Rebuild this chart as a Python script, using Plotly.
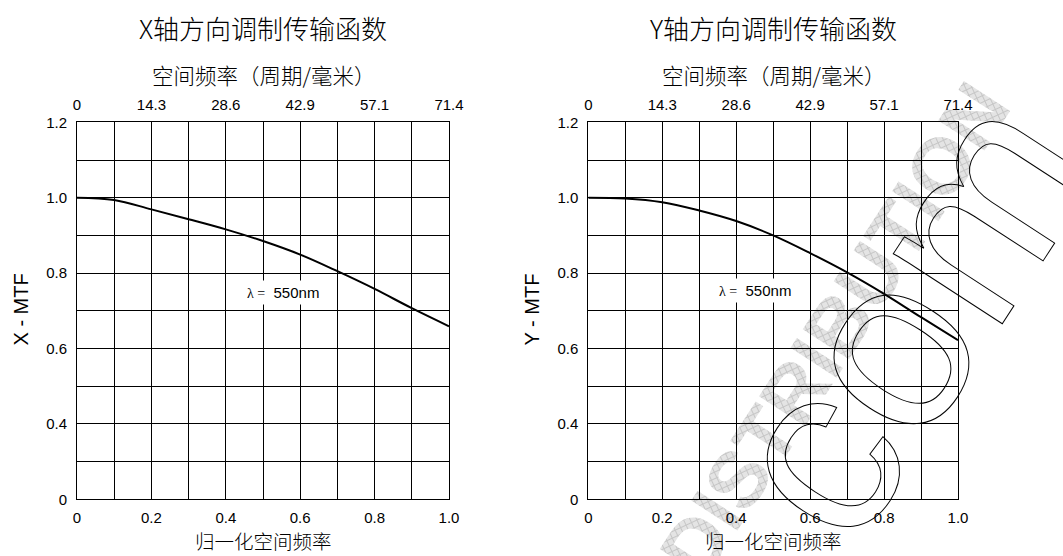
import base64
import plotly.graph_objects as go

# ---------------- data ----------------
norm_freq = [0.0, 0.1, 0.2, 0.3, 0.4, 0.5, 0.6, 0.7, 0.8, 0.9, 1.0]
x_mtf = [1.0, 0.994, 0.969, 0.943, 0.916, 0.885, 0.849, 0.805, 0.758, 0.707, 0.659]
y_mtf = [1.0, 0.998, 0.988, 0.966, 0.938, 0.900, 0.853, 0.802, 0.745, 0.683, 0.622]

bottom_tickvals = [0.0, 0.2, 0.4, 0.6, 0.8, 1.0]
bottom_ticktext = ["0", "0.2", "0.4", "0.6", "0.8", "1.0"]
top_ticktext = ["0", "14.3", "28.6", "42.9", "57.1", "71.4"]
y_tickvals = [0.2, 0.4, 0.6, 0.8, 1.0, 1.2]
y_ticktext = ["0", "0.4", "0.6", "0.8", "1.0", "1.2"]

titles = ["X轴方向调制传输函数", "Y轴方向调制传输函数"]
y_titles = ["X - MTF", "Y - MTF"]
top_title = "空间频率（周期/毫米）"
bottom_title = "归一化空间频率"
wavelength_label = "550nm"

W, H = 1063, 556
SANS = "Liberation Sans, Arial, sans-serif"
CJK = "Noto Sans CJK SC"

fig = go.Figure()
fig.add_trace(go.Scatter(x=norm_freq, y=x_mtf, mode="lines", xaxis="x", yaxis="y",
                         line=dict(color="black", width=2, shape="spline"), showlegend=False))
fig.add_trace(go.Scatter(x=norm_freq, y=y_mtf, mode="lines", xaxis="x2", yaxis="y2",
                         line=dict(color="black", width=2, shape="spline"), showlegend=False))

doms_x = [[77 / W, 449 / W], [588.3 / W, 958 / W]]
dom_y = [1 - 499.3 / H, 1 - 122.3 / H]

grid_common = dict(showgrid=True, gridcolor="black", gridwidth=1, zeroline=False,
                   showline=True, linecolor="black", linewidth=1, mirror=True, ticks="",
                   automargin=False,
                   tickfont=dict(family=SANS, size=15, color="black"))

layout = dict(width=W, height=H, margin=dict(l=0, r=0, t=0, b=0, autoexpand=False),
              paper_bgcolor="white", plot_bgcolor="rgba(0,0,0,0)", showlegend=False)

for i in range(2):
    xs = "" if i == 0 else "2"
    ys = "" if i == 0 else "2"
    layout["xaxis" + xs] = dict(domain=doms_x[i], range=[0, 1], anchor="y" + ys,
                                tickvals=bottom_tickvals, ticktext=bottom_ticktext,
                                minor=dict(dtick=0.1, tick0=0, showgrid=True, gridcolor="black", gridwidth=1),
                                ticklabelstandoff=5, **grid_common)
    layout["yaxis" + ys] = dict(domain=dom_y, range=[0.2, 1.2], anchor="x" + xs,
                                tickvals=y_tickvals, ticktext=y_ticktext,
                                minor=dict(dtick=0.1, tick0=0, showgrid=True, gridcolor="black", gridwidth=1),
                                ticklabelstandoff=6, **grid_common)
    top_name = "xaxis" + str(3 + i)
    layout[top_name] = dict(domain=doms_x[i], range=[0, 1], anchor="y" + ys,
                            overlaying="x" + xs, side="top", showgrid=False, zeroline=False,
                            tickvals=bottom_tickvals, ticktext=top_ticktext, ticks="",
                            ticklabelstandoff=8, automargin=False,
                            tickfont=dict(family=SANS, size=15, color="black"))

fig.update_layout(**layout)
# invisible traces to anchor top axes
for i in range(2):
    fig.add_trace(go.Scatter(x=[0, 1], y=[0.2, 0.2], mode="lines", xaxis="x" + str(3 + i),
                             yaxis="y" if i == 0 else "y2", line=dict(width=0),
                             hoverinfo="skip", showlegend=False, opacity=0))

annotations = []
for i in range(2):
    cx = (doms_x[i][0] + doms_x[i][1]) / 2
    annotations.append(dict(text=titles[i], x=cx, y=1 - 27 / H, xref="paper", yref="paper",
                            showarrow=False, xanchor="center", yanchor="middle",
                            font=dict(family=CJK, size=26, color="black", weight=300)))
    annotations.append(dict(text=top_title, x=cx, y=1 - 74 / H, xref="paper", yref="paper",
                            showarrow=False, xanchor="center", yanchor="middle",
                            font=dict(family=CJK, size=21.5, color="black", weight=300)))
    annotations.append(dict(text=bottom_title, x=cx, y=1 - 540 / H, xref="paper", yref="paper",
                            showarrow=False, xanchor="center", yanchor="middle",
                            font=dict(family=CJK, size=19.5, color="black", weight=300)))
    ax_px = 20.5 if i == 0 else 531.5
    annotations.append(dict(text=y_titles[i], x=ax_px / W, y=1 - 310 / H, xref="paper", yref="paper",
                            showarrow=False, xanchor="center", yanchor="middle", textangle=-90,
                            font=dict(family=SANS, size=20, color="black")))

lam_x = [0.555, 0.45]
lam_y = [0.749, 0.755]
for i in range(2):
    xs = "" if i == 0 else "2"
    annotations.append(dict(
        text="<span style='font-family:Liberation Serif;font-size:14px'>λ =</span>  " + wavelength_label,
        x=lam_x[i], y=lam_y[i], xref="x" + xs, yref="y" + xs, showarrow=False,
        bgcolor="white", borderpad=3,
        font=dict(family=SANS, size=15, color="black")))

fig.update_layout(annotations=annotations)

# watermark
svg = f"""<svg xmlns='http://www.w3.org/2000/svg' width='{W}' height='{H}' viewBox='0 0 {W} {H}'>
<defs><pattern id='h' width='6' height='6' patternUnits='userSpaceOnUse' patternTransform='rotate(32)'>
<rect width='6' height='6' fill='#e4e4e4'/><path d='M0 0.5H6M0.5 0V6' stroke='#c6c6c6' stroke-width='1'/></pattern></defs>
<text x='858' y='345' transform='rotate(-57 858 345)' font-family='Liberation Sans, Arial' font-weight='bold'
 font-size='80' text-anchor='middle' fill='url(#h)'>DISTRIBUTION</text>
<text x='852' y='555' transform='rotate(-57 852 555)' font-family='Liberation Sans, Arial'
 font-size='245' fill='none' stroke='#000' stroke-width='1'>com</text>
</svg>"""
src = "data:image/svg+xml;base64," + base64.b64encode(svg.encode("utf-8")).decode("ascii")
fig.add_layout_image(dict(source=src, xref="paper", yref="paper", x=0, y=1, sizex=1, sizey=1,
                          xanchor="left", yanchor="top", sizing="stretch", layer="below", opacity=1))

fig.write_html("out.html", config={"displayModeBar": False},
               post_script="document.body.style.margin='0';document.body.style.overflow='hidden';")
